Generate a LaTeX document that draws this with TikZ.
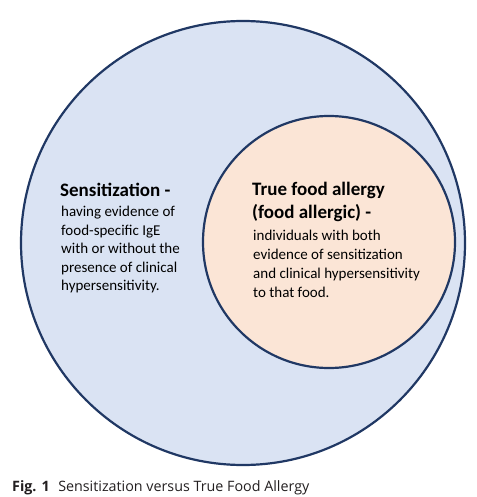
\documentclass[tikz,border=0pt]{standalone}
\usepackage{fontspec}
\setmainfont{Carlito}
\newfontfamily\capfont{Open Sans}
\definecolor{outerfill}{HTML}{DAE3F3}
\definecolor{innerfill}{HTML}{FBE5D6}
\definecolor{edge}{HTML}{203864}
\definecolor{captext}{HTML}{231F20}
\begin{document}
\begin{tikzpicture}[x=1pt,y=-1pt,
  ring/.style={draw=edge,line width=2.2pt},
  headtxt/.style={anchor=base west,inner sep=0pt,font=\fontsize{19}{23}\selectfont\bfseries},
  bodytxt/.style={anchor=base west,inner sep=0pt,font=\fontsize{15}{18.7}\selectfont},
  captxt/.style={anchor=base west,inner sep=0pt,text=captext,font=\capfont\fontsize{14.3}{16}\selectfont}]
\useasboundingbox (0,0) rectangle (476,497);
\fill[white] (0,0) rectangle (476,497);
\node[ring,fill=outerfill,circle,minimum size=444pt,inner sep=0pt] (outer) at (243,243) {};
\node[ring,fill=innerfill,circle,minimum size=252pt,inner sep=0pt] (inner) at (329,242) {};
% left block
\node[headtxt] (sh) at (60,196) {Sensitization -};
\node[bodytxt] (sb1) at (61,216.5) {having evidence of};
\node[bodytxt] (sb2) at (61,235) {food-specific IgE};
\node[bodytxt] (sb3) at (61,253.5) {with or without the};
\node[bodytxt] (sb4) at (61,272) {presence of clinical};
\node[bodytxt] (sb5) at (61,290.5) {hypersensitivity.};
% right block
\node[headtxt] (th1) at (252,195) {True food allergy};
\node[headtxt] (th2) at (252,218) {(food allergic) -};
\node[bodytxt] (tb1) at (253,240) {individuals with both};
\node[bodytxt] (tb2) at (253,259) {evidence of sensitization};
\node[bodytxt] (tb3) at (253,278) {and clinical hypersensitivity};
\node[bodytxt] (tb4) at (253,297) {to that food.};
\node[captxt] (cap) at (12,491) {\textbf{Fig. 1}\hspace{0.6em}Sensitization versus True Food Allergy};
\end{tikzpicture}
\end{document}
